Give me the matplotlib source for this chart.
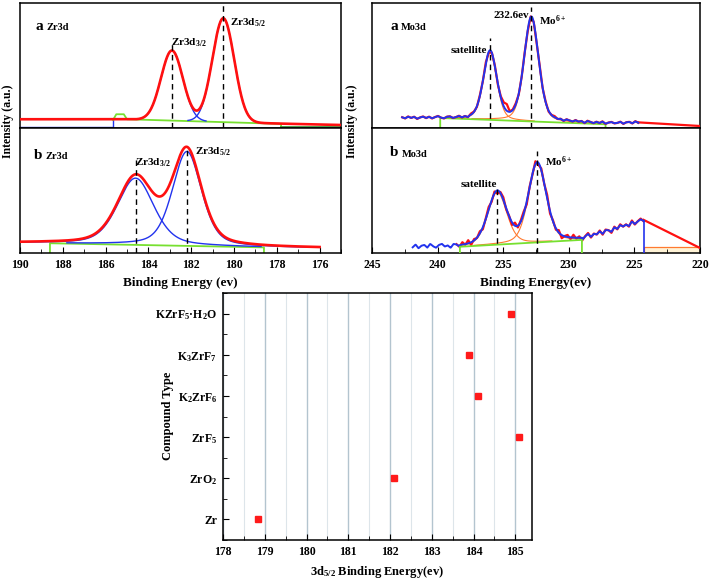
import numpy as np
import matplotlib
matplotlib.use("Agg")
import matplotlib.pyplot as plt
from matplotlib.ticker import MultipleLocator

plt.rcParams["font.family"] = "Liberation Serif"
plt.rcParams["font.weight"] = "bold"
plt.rcParams["axes.labelweight"] = "bold"
plt.rcParams["mathtext.fontset"] = "custom"
plt.rcParams["mathtext.rm"] = "Liberation Serif:bold"
plt.rcParams["mathtext.it"] = "Liberation Serif:bold"
plt.rcParams["mathtext.bf"] = "Liberation Serif:bold"
plt.rcParams["mathtext.default"] = "rm"

RED = "#ff1010"
BLUE = "#2233ee"
GREEN = "#77e030"
DGREEN = "#3c9a3c"
ORANGE = "#ff7a30"

# ---- Zr3d, sample a (peak fit parameters: centre, height above background, fwhm, lorentz share)
zr_a_centers = [182.9, 180.5]
zr_a_heights = [0.56, 0.83]
zr_a_fwhm = [1.2, 1.2]
zr_a_eta = [0.0, 0.0]
zr_a_base_x = [190, 185.0, 177.8, 175]
zr_a_base_y = [0.07, 0.07, 0.035, 0.024]
zr_a_green_x = [185.65, 185.5, 185.15, 185.0, 177.8, 177.8]
zr_a_green_y = [0.065, 0.11, 0.11, 0.07, 0.033, 0.01]

# ---- Zr3d, sample b
zr_b_centers = [184.6, 182.2]
zr_b_heights = [0.534, 0.755]
zr_b_fwhm = [2.0, 1.6]
zr_b_eta = [0.4, 0.4]
zr_b_base_x = [190, 188.6, 178.6, 176]
zr_b_base_y = [0.08, 0.078, 0.045, 0.04]
zr_b_green_x = [188.6, 188.6, 178.6, 178.6]
zr_b_green_y = [0.0, 0.078, 0.045, 0.0]

# ---- Mo3d, sample a
mo_a_centers = [236.0, 232.85]
mo_a_heights = [0.545, 0.83]
mo_a_fwhm = [1.2, 1.3]
mo_a_eta = [0.3, 0.3]
mo_a_shoulder = [234.8, 0.05, 0.4]
mo_a_base_x = [242.7, 239.8, 227.2, 224.7]
mo_a_base_y = [0.08, 0.08, 0.037, 0.042]
mo_a_tail_x = [224.7, 220]
mo_a_tail_y = [0.045, 0.016]
mo_a_green_x = [239.8, 239.8, 227.2, 227.2]
mo_a_green_y = [0.0, 0.08, 0.03, 0.0]

# ---- Mo3d, sample b
mo_b_centers = [235.45, 232.4]
mo_b_heights = [0.42, 0.63]
mo_b_fwhm = [1.7, 1.6]
mo_b_eta = [0.3, 0.3]
mo_b_base_x = [241.9, 238.3, 229.0, 224.3]
mo_b_base_y = [0.05, 0.05, 0.11, 0.26]
mo_b_tail_x = [224.3, 220]
mo_b_tail_y = [0.265, 0.04]
mo_b_green_x = [238.3, 238.3, 229.0, 229.0]
mo_b_green_y = [0.0, 0.05, 0.105, 0.0]
mo_b_box_x = [224.3, 224.3, 220]
mo_b_box_y = [0.0, 0.05, 0.05]

# raw-spectrum scatter (relative units)
noise_a = [0.3, -0.5, 0.8, -0.2, 0.6, -0.9, 0.1, 0.7, -0.4, 0.5, -0.7, 0.2, 0.9, -0.3,
           -0.8, 0.4, 0.6, -0.6, 0.0, 0.8, -0.5, 0.3, -0.9, 0.7, 0.2, -0.4, 0.5, -0.2,
           0.9, -0.7, 0.1, 0.6, -0.8, 0.4, -0.1, 0.7, -0.6, 0.3, 0.8, -0.5, -0.2, 0.6,
           -0.9, 0.4, 0.2, -0.7, 0.9, -0.3, 0.5, -0.6, 0.1, 0.8, -0.4, 0.3, -0.8, 0.6,
           0.0, -0.5, 0.7, -0.2, 0.4, -0.9, 0.8, 0.1, -0.6, 0.5, -0.3, 0.9, -0.7, 0.2,
           0.6, -0.4, -0.1, 0.7, -0.8, 0.3, 0.5, -0.6, 0.9, -0.2]
noise_b = [-0.4, 0.7, -0.8, 0.2, 0.5, -0.6, 0.9, -0.1, -0.7, 0.4, 0.8, -0.3, 0.1, -0.9,
           0.6, 0.3, -0.5, 0.7, -0.2, 0.9, -0.8, 0.4, -0.1, 0.6, -0.6, 0.2, 0.8, -0.4,
           0.5, -0.9, 0.3, 0.7, -0.3, 0.1, -0.7, 0.9, -0.5, 0.4, 0.6, -0.8, 0.2, -0.2,
           0.8, -0.6, 0.5, -0.1, 0.9, -0.7, 0.3, -0.4, 0.7, -0.9, 0.1, 0.6, -0.5, 0.8,
           -0.3, 0.4, -0.8, 0.2, 0.9, -0.6, 0.3, -0.2, 0.7, -0.7, 0.5, 0.1, -0.9, 0.6,
           -0.4, 0.8, -0.1, 0.3, -0.6, 0.9, -0.5, 0.2, 0.7, -0.3]

# ---- reference binding energies
compounds = ["Zr", "ZrO$_2$", "ZrF$_5$", "K$_2$ZrF$_6$", "K$_3$ZrF$_7$", "KZrF$_5$·H$_2$O"]
energies = [178.85, 182.1, 185.1, 184.1, 183.9, 184.9]


def pv(x, c, h, w, eta):
    g = np.exp(-4 * np.log(2) * (x - c) ** 2 / w ** 2)
    l = 1.0 / (1 + 4 * (x - c) ** 2 / w ** 2)
    return h * (eta * l + (1 - eta) * g)


def base(x, bx, by):
    return np.interp(x, bx[::-1], by[::-1])


fig = plt.figure(figsize=(7.09, 5.80), dpi=100)
W, H = 709.0, 580.0


def add_ax(x0, y0, x1, y1):
    return fig.add_axes([x0 / W, 1 - y1 / H, (x1 - x0) / W, (y1 - y0) / H])


ax_za = add_ax(20, 3, 341, 128)
ax_zb = add_ax(20, 128, 341, 253)
ax_ma = add_ax(372, 3, 700, 128)
ax_mb = add_ax(372, 128, 700, 253)
ax_c = add_ax(223, 293, 532, 540)

for ax in [ax_za, ax_zb, ax_ma, ax_mb, ax_c]:
    for s in ax.spines.values():
        s.set_linewidth(1.1)

for ax in [ax_za, ax_zb]:
    ax.set_xlim(190, 175)
    ax.set_ylim(0, 1)
for ax in [ax_ma, ax_mb]:
    ax.set_xlim(245, 220)
    ax.set_ylim(0, 1)

for ax in [ax_za, ax_ma]:
    ax.set_xticks([])
    ax.set_yticks([])
for ax in [ax_zb, ax_mb]:
    ax.set_yticks([])
    ax.tick_params(axis="x", which="both", direction="in", labelsize=8.5, pad=4)
    ax.tick_params(axis="x", which="major", length=4)
    ax.tick_params(axis="x", which="minor", length=3)
ax_zb.xaxis.set_major_locator(MultipleLocator(2))
ax_zb.xaxis.set_minor_locator(MultipleLocator(1))
ax_mb.xaxis.set_major_locator(MultipleLocator(5))
ax_mb.xaxis.set_minor_locator(MultipleLocator(2.5))


def dash(ax, x, ytop):
    ax.plot([x, x], [0, ytop], color="black", ls=(0, (4, 3)), lw=1.0, zorder=6)


# ---------- Zr3d a
x = np.linspace(190, 175, 800)
bg = base(x, zr_a_base_x, zr_a_base_y)
comps = [pv(x, c, h, w, e) for c, h, w, e in zip(zr_a_centers, zr_a_heights, zr_a_fwhm, zr_a_eta)]
ax_za.plot([190, 185.65, 185.65], [0.01, 0.01, 0.065], color=BLUE, lw=1.0)
for cp in comps:
    ax_za.plot(x, np.where(cp > 0.004, bg + cp, np.nan), color=BLUE, lw=1.0, zorder=3)
ax_za.plot(zr_a_green_x, zr_a_green_y, color=GREEN, lw=1.3, zorder=2)
ax_za.plot([177.8, 175], [0.01, 0.01], color=DGREEN, lw=1.3, zorder=2)
ax_za.plot(x, bg + sum(comps), color=RED, lw=1.9, zorder=4)
dash(ax_za, 182.9, 0.7)
dash(ax_za, 180.5, 1.0)
ax_za.text(0.047, 0.81, "a", transform=ax_za.transAxes, fontsize=11, va="center")
ax_za.text(0.084, 0.80, "Zr3d", transform=ax_za.transAxes, fontsize=7.5, va="center")
ax_za.text(0.47, 0.68, "Zr3d$_{3/2}$", transform=ax_za.transAxes, fontsize=8, va="center")
ax_za.text(0.654, 0.84, "Zr3d$_{5/2}$", transform=ax_za.transAxes, fontsize=8, va="center")

# ---------- Zr3d b
x = np.linspace(190, 176, 800)
bg = base(x, zr_b_base_x, zr_b_base_y)
comps = [pv(x, c, h, w, e) for c, h, w, e in zip(zr_b_centers, zr_b_heights, zr_b_fwhm, zr_b_eta)]
for cp in comps:
    ax_zb.plot(x, np.where(cp > 0.006, bg + cp, np.nan), color=BLUE, lw=1.0, zorder=3)
ax_zb.plot(zr_b_green_x, zr_b_green_y, color=GREEN, lw=1.3, zorder=2)
ax_zb.plot(x, bg + sum(comps), color=RED, lw=1.9, zorder=4)
dash(ax_zb, 184.6, 0.76)
dash(ax_zb, 182.2, 0.86)
ax_zb.text(0.044, 0.78, "b", transform=ax_zb.transAxes, fontsize=11, va="center")
ax_zb.text(0.078, 0.77, "Zr3d", transform=ax_zb.transAxes, fontsize=7.5, va="center")
ax_zb.text(0.358, 0.72, "Zr3d$_{3/2}$", transform=ax_zb.transAxes, fontsize=8, va="center")
ax_zb.text(0.545, 0.81, "Zr3d$_{5/2}$", transform=ax_zb.transAxes, fontsize=8, va="center")

# ---------- Mo3d a
x = np.linspace(mo_a_base_x[0], mo_a_base_x[-1], len(noise_a))
xf = np.linspace(mo_a_base_x[0], mo_a_base_x[-1], 600)
nz = np.array(noise_a)
bgd = base(x, mo_a_base_x, mo_a_base_y)
fit = bgd + sum(pv(x, c, h, w, e) for c, h, w, e in zip(mo_a_centers, mo_a_heights, mo_a_fwhm, mo_a_eta))
fit_f = base(xf, mo_a_base_x, mo_a_base_y) + sum(
    pv(xf, c, h, w, e) for c, h, w, e in zip(mo_a_centers, mo_a_heights, mo_a_fwhm, mo_a_eta))
raw = fit + pv(x, mo_a_shoulder[0], mo_a_shoulder[1], mo_a_shoulder[2], 0) + 0.012 * nz
ax_ma.plot(x, raw, color=RED, lw=1.6, zorder=3)
ax_ma.plot(mo_a_tail_x, mo_a_tail_y, color=RED, lw=1.6, zorder=3)
gl = np.interp(xf, [227.2, 239.8], [0.03, 0.08])
for c, h, w, e in zip(mo_a_centers, mo_a_heights, mo_a_fwhm, mo_a_eta):
    cp = pv(xf, c, h, w, e)
    ax_ma.plot(xf, np.where(cp > 0.005, gl + cp, np.nan), color=ORANGE, lw=0.8, zorder=2)
blue_a = fit_f + 0.01 * np.interp(xf, x[::-1], nz[::-1]) * (np.abs(fit_f - base(xf, mo_a_base_x, mo_a_base_y)) < 0.03)
ax_ma.plot(xf, blue_a, color=BLUE, lw=1.4, zorder=4)
ax_ma.plot(mo_a_green_x, mo_a_green_y, color=GREEN, lw=1.3, zorder=2)
dash(ax_ma, 236.0, 0.72)
dash(ax_ma, 232.85, 0.97)
ax_ma.text(0.055, 0.81, "a", transform=ax_ma.transAxes, fontsize=11, va="center")
ax_ma.text(0.089, 0.80, "Mo3d", transform=ax_ma.transAxes, fontsize=7.5, va="center")
ax_ma.text(0.352, 0.62, "satellite", transform=ax_ma.transAxes, fontsize=8, va="center", ha="right")
ax_ma.text(0.37, 0.90, "232.6ev", transform=ax_ma.transAxes, fontsize=8, va="center")
ax_ma.text(0.51, 0.86, "Mo$^{6+}$", transform=ax_ma.transAxes, fontsize=8, va="center")

# ---------- Mo3d b
x = np.linspace(mo_b_base_x[0], mo_b_base_x[-1], len(noise_b))
xf = np.linspace(mo_b_base_x[0], mo_b_base_x[-1], 600)
nz = np.array(noise_b)
peaks = lambda xx: sum(pv(xx, c, h, w, e) for c, h, w, e in zip(mo_b_centers, mo_b_heights, mo_b_fwhm, mo_b_eta))
raw = base(x, mo_b_base_x, mo_b_base_y) + peaks(x) + 0.028 * nz
sel = x <= 238.6
ax_mb.plot(x[sel], raw[sel], color=RED, lw=1.6, zorder=3)
ax_mb.plot(mo_b_tail_x, mo_b_tail_y, color=RED, lw=1.6, zorder=3)
ax_mb.fill_between(mo_b_box_x[1:], 0, 0.05, color="#fff3d6", lw=0, zorder=1)
ax_mb.plot(mo_b_box_x, mo_b_box_y, color=ORANGE, lw=0.9, zorder=2)
gl = np.interp(xf, [229.0, 238.3], [0.105, 0.05])
for c, h, w, e in zip(mo_b_centers, mo_b_heights, mo_b_fwhm, mo_b_eta):
    cp = pv(xf, c, h, w, e)
    ax_mb.plot(xf, np.where((cp > 0.005) & (xf < 238.3) & (xf > 229.0), gl + cp, np.nan),
               color=ORANGE, lw=0.8, zorder=2)
outside = (xf > 238.3) | (xf < 229.0)
blue_b = base(xf, mo_b_base_x, mo_b_base_y) + peaks(xf) + 0.02 * np.interp(xf, x[::-1], nz[::-1]) * outside
ax_mb.plot(xf, blue_b, color=BLUE, lw=1.4, zorder=4)
ax_mb.plot([224.3, 224.3], [blue_b[-1], 0], color=BLUE, lw=1.2, zorder=4)
ax_mb.plot(mo_b_green_x, mo_b_green_y, color=GREEN, lw=1.3, zorder=5)
dash(ax_mb, 235.45, 0.54)
dash(ax_mb, 232.4, 0.82)
ax_mb.text(0.055, 0.80, "b", transform=ax_mb.transAxes, fontsize=11, va="center")
ax_mb.text(0.092, 0.79, "Mo3d", transform=ax_mb.transAxes, fontsize=7.5, va="center")
ax_mb.text(0.382, 0.55, "satellite", transform=ax_mb.transAxes, fontsize=8, va="center", ha="right")
ax_mb.text(0.526, 0.73, "Mo$^{6+}$", transform=ax_mb.transAxes, fontsize=8, va="center")

# axis titles for the spectra
fig.text(180 / W, 1 - 283 / H, "Binding Energy (ev)", fontsize=9.5, ha="center", va="center")
fig.text(536 / W, 1 - 283 / H, "Binding Energy(ev)", fontsize=9.5, ha="center", va="center")
fig.text(8 / W, 1 - 121 / H, "Intensity (a.u.)", rotation=90, fontsize=8.5, ha="center", va="center")
fig.text(352 / W, 1 - 121 / H, "Intensity (a.u.)", rotation=90, fontsize=8.5, ha="center", va="center")

# ---------- reference compounds
ypos = np.arange(len(compounds))
ax_c.set_xlim(178, 185.4)
ax_c.set_ylim(-0.5, 5.5)
ax_c.xaxis.set_major_locator(MultipleLocator(1))
ax_c.xaxis.set_minor_locator(MultipleLocator(0.5))
ax_c.set_yticks(ypos)
ax_c.set_yticklabels(compounds)
ax_c.yaxis.set_minor_locator(MultipleLocator(0.5))
ax_c.tick_params(axis="both", which="both", direction="in", labelsize=8.5, pad=4)
ax_c.tick_params(which="major", length=4)
ax_c.tick_params(which="minor", length=3)
ax_c.grid(True, axis="x", which="major", color="#b3c4cf", lw=1.0)
ax_c.grid(True, axis="x", which="minor", color="#dde5ea", lw=0.8)
ax_c.set_axisbelow(True)
ax_c.plot(energies, ypos, "s", color="#ff1a1a", markersize=4.5, ls="none", zorder=5)
fig.text(377 / W, 1 - 572 / H, "3d$_{5/2}$ Binding Energy(ev)", fontsize=9, ha="center", va="center")
fig.text(168 / W, 1 - 416 / H, "Compound Type", rotation=90, fontsize=9, ha="center", va="center")

fig.savefig("out.png", dpi=100)
